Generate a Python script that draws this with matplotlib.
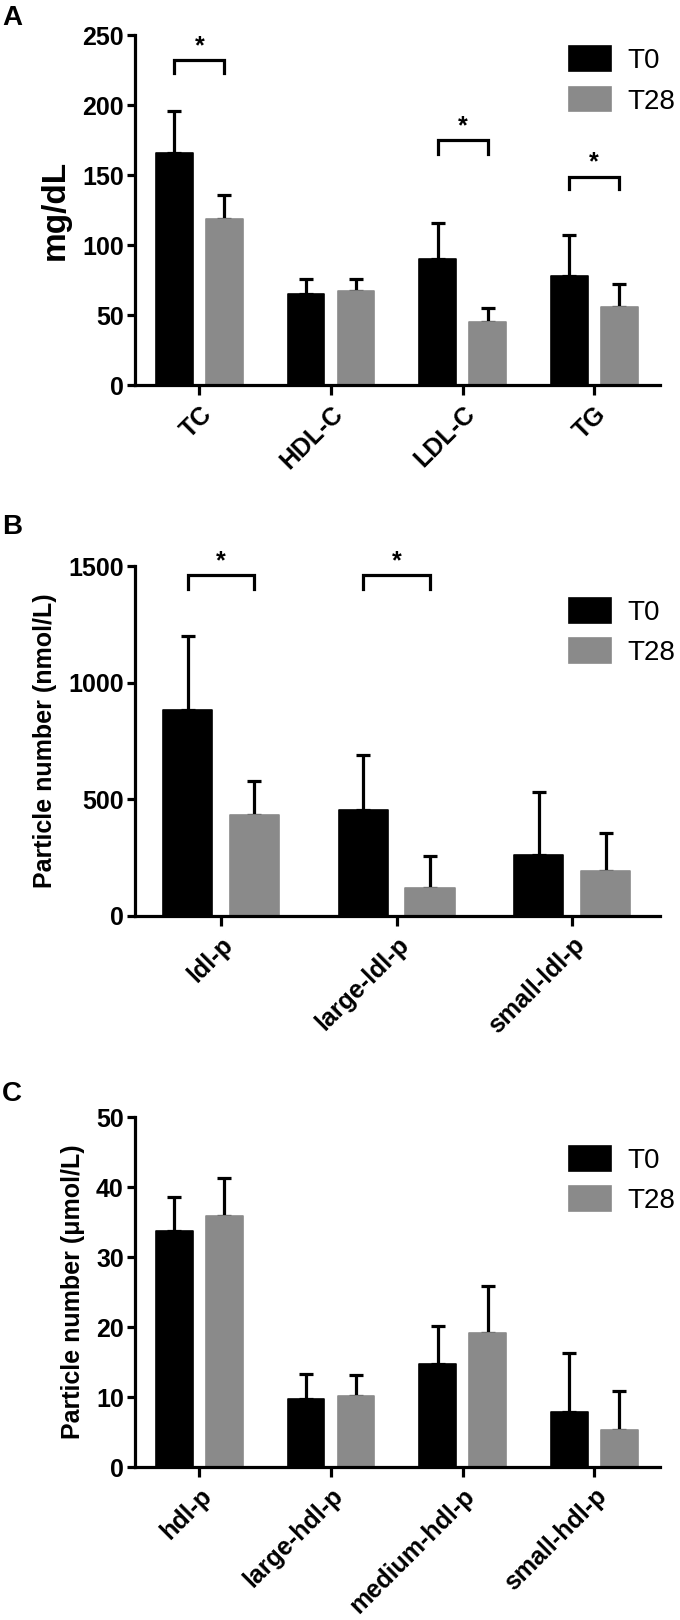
import numpy as np
import matplotlib
matplotlib.use("Agg")
import matplotlib.pyplot as plt

plt.rcParams['font.family'] = ['Liberation Sans', 'DejaVu Sans']
plt.rcParams['font.weight'] = 'bold'

# Panel A - lipid profile (mg/dL)
cats_a = ["TC", "HDL-C", "LDL-C", "TG"]
t0_a = [166, 65, 90, 78]
t0_a_err = [29.5, 11, 26, 29]
t28_a = [119, 67.5, 45, 56]
t28_a_err = [17, 8.5, 10, 16]
sig_a = [(0, 232, 223), (2, 175, 165), (3, 149, 140)]  # group, bracket top, leg end

# Panel B - LDL particles (nmol/L)
cats_b = ["ldl-p", "large-ldl-p", "small-ldl-p"]
t0_b = [884, 454, 263]
t0_b_err = [317, 236, 270]
t28_b = [434, 121, 192]
t28_b_err = [145, 135, 163]
sig_b = [(0, 1460, 1403), (1, 1460, 1403)]

# Panel C - HDL particles (umol/L)
cats_c = ["hdl-p", "large-hdl-p", "medium-hdl-p", "small-hdl-p"]
t0_c = [33.8, 9.7, 14.7, 7.8]
t0_c_err = [4.8, 3.6, 5.5, 8.5]
t28_c = [35.9, 10.2, 19.1, 5.3]
t28_c_err = [5.4, 3.0, 6.8, 5.6]

GREY = "#8a8a8a"
LW = 2.3


def panel(ax, cats, t0, t0e, t28, t28e, ymax, ystep, ylabel, ylsize, sig, leg_y):
    x = np.arange(len(cats))
    w = 0.28
    off = 0.19
    ax.bar(x - off, t0, w, color="black", edgecolor="black", lw=1.2,
           joinstyle="round", label="T0", zorder=2)
    ax.bar(x + off, t28, w, color=GREY, edgecolor=GREY, lw=1.2,
           joinstyle="round", label="T28", zorder=2)
    ax.errorbar(x - off, t0, yerr=[np.zeros(len(t0)), t0e], fmt="none",
                ecolor="black", elinewidth=LW, capsize=5, capthick=LW, zorder=1)
    ax.errorbar(x + off, t28, yerr=[np.zeros(len(t28)), t28e], fmt="none",
                ecolor="black", elinewidth=LW, capsize=5, capthick=LW, zorder=1)
    for g, top, leg in sig:
        ax.plot([g - off, g - off, g + off, g + off], [leg, top, top, leg],
                color="black", lw=LW, clip_on=False, solid_joinstyle="miter")
        ax.text(g, top + ymax * 0.005, "*", ha="center", va="bottom",
                fontsize=18, fontweight="bold", clip_on=False)
    ax.set_xlim(-0.49, len(cats) - 0.5)
    ax.set_ylim(0, ymax)
    ax.set_yticks(np.arange(0, ymax + 1, ystep))
    ax.set_xticks(x)
    ax.set_xticklabels(cats, rotation=45, ha="right", rotation_mode="anchor",
                       fontsize=18)
    ax.set_ylabel(ylabel, fontsize=ylsize, fontweight="bold", labelpad=8)
    for s in ["top", "right"]:
        ax.spines[s].set_visible(False)
    for s in ["left", "bottom"]:
        ax.spines[s].set_linewidth(LW)
    ax.tick_params(width=LW, length=6, direction="out")
    ax.tick_params(axis="y", labelsize=18, pad=2)
    ax.tick_params(axis="x", length=7, pad=5)
    ax.legend(loc="upper left", bbox_to_anchor=(0.78, leg_y), frameon=False,
              handlelength=1.5, handleheight=1.0,
              labelspacing=0.45, handletextpad=0.6,
              prop={"size": 20, "weight": "normal"})


fig = plt.figure(figsize=(6.8, 16.2), dpi=100)
ax_a = fig.add_axes([0.1985, 0.7623, 0.772, 0.216])
ax_b = fig.add_axes([0.1985, 0.4346, 0.772, 0.216])
ax_c = fig.add_axes([0.1985, 0.0944, 0.772, 0.216])

panel(ax_a, cats_a, t0_a, t0_a_err, t28_a, t28_a_err, 250, 50, "mg/dL", 24,
      sig_a, 1.04)
panel(ax_b, cats_b, t0_b, t0_b_err, t28_b, t28_b_err, 1500, 500,
      "Particle number (nmol/L)", 18, sig_b, 0.98)
panel(ax_c, cats_c, t0_c, t0_c_err, t28_c, t28_c_err, 50, 10,
      "Particle number (μmol/L)", 18, [], 0.99)

fig.text(0.003, 0.997, "A", fontsize=20, fontweight="bold", va="top")
fig.text(0.003, 0.683, "B", fontsize=20, fontweight="bold", va="top")
fig.text(0.003, 0.333, "C", fontsize=20, fontweight="bold", va="top")

fig.savefig("out.png", dpi=100)
